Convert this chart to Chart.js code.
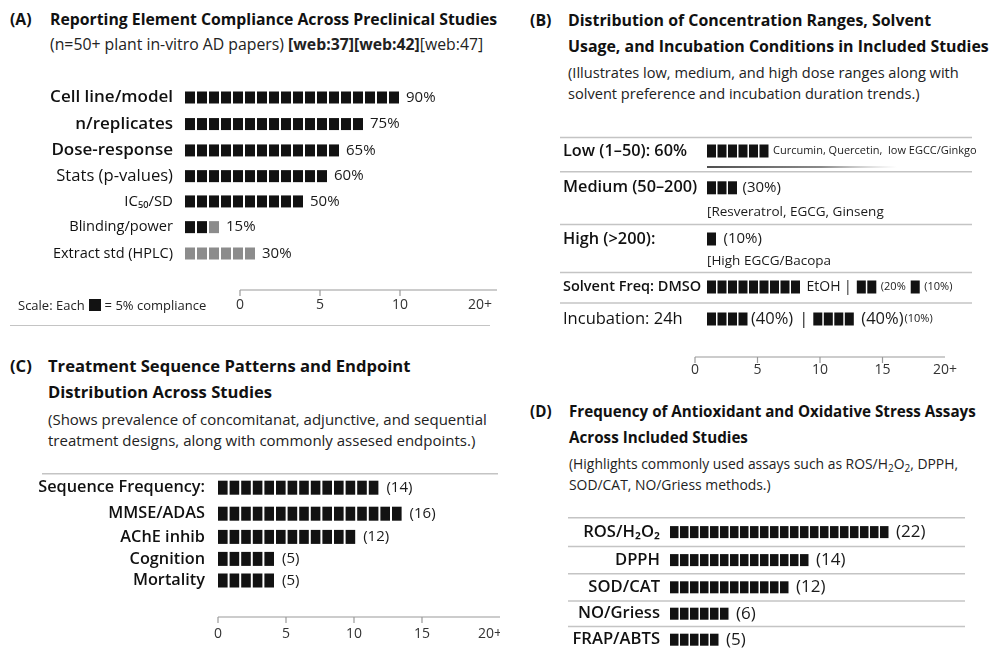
<!DOCTYPE html>
<html>
<head>
<meta charset="utf-8">
<title>Preclinical study design summary</title>
<script src="https://cdn.jsdelivr.net/npm/chart.js@4.4.1/dist/chart.umd.min.js"></script>
<style>
  html, body { margin: 0; padding: 0; background: #fff; }
  body { width: 992px; height: 659px; position: relative; overflow: hidden;
         font-family: "Open Sans", Lato, sans-serif; color: #111; }
  .abs { position: absolute; white-space: nowrap; }
  .title { font-weight: 700; font-size: 16px; line-height: 26px; display: flex; }
  .title .tag { width: 40px; flex: none; }
  .sub { font-size: 14.3px; line-height: 21px; color: #222; }
  .sub sub { font-size: 10px; vertical-align: -3px; line-height: 0; }
  .rule { position: absolute; height: 0; border-top: 1.5px solid #c4c4c4; }
  .key { font-size: 13px; color: #222; }
  .key i { display: inline-block; width: 12px; height: 12px; background: #121212; vertical-align: -1px; margin: 0 4px; }
  canvas { position: absolute; }
</style>
</head>
<body>

<!-- Panel A -->
<div class="abs title" style="left:10px;top:6px;font-size:15.8px"><span class="tag">(A)</span><span>Reporting Element Compliance Across Preclinical Studies</span></div>
<div class="abs sub" style="left:50px;top:34px;font-size:15.8px">(n=50+ plant in-vitro AD papers) <b>[web:37][web:42]</b>[web:47]</div>
<canvas id="chartA" width="500" height="262" style="left:0;top:62px"></canvas>
<div class="abs key" style="left:18px;top:296px">Scale: Each<i></i>= 5% compliance</div>
<div class="rule" style="left:10px;top:325px;width:480px"></div>

<!-- Panel B -->
<div class="abs title" style="left:530px;top:7px;font-size:15.9px"><span class="tag" style="width:38px">(B)</span><span>Distribution of Concentration Ranges, Solvent<br>Usage, and Incubation Conditions in Included Studies</span></div>
<div class="abs sub" style="left:568px;top:62px;font-size:14.6px">(Illustrates low, medium, and high dose ranges along with<br>solvent preference and incubation duration trends.)</div>
<canvas id="chartB" width="437" height="281" style="left:555px;top:108px"></canvas>

<!-- Panel C -->
<div class="abs title" style="left:10px;top:353px;font-size:16.6px"><span class="tag" style="width:38px">(C)</span><span>Treatment Sequence Patterns and Endpoint<br>Distribution Across Studies</span></div>
<div class="abs sub" style="left:48px;top:409px;font-size:15px">(Shows prevalence of concomitanat, adjunctive, and sequential<br>treatment designs, along with commonly assesed endpoints.)</div>
<canvas id="chartC" width="470" height="195" style="left:30px;top:455px"></canvas>

<!-- Panel D -->
<div class="abs title" style="left:530px;top:398px;font-size:15.2px"><span class="tag" style="width:39px">(D)</span><span>Frequency of Antioxidant and Oxidative Stress Assays<br>Across Included Studies</span></div>
<div class="abs sub" style="left:569px;top:453px;font-size:13.9px">(Highlights commonly used assays such as ROS/H<sub>2</sub>O<sub>2</sub>, DPPH,<br>SOD/CAT, NO/Griess methods.)</div>
<canvas id="chartD" width="432" height="164" style="left:560px;top:495px"></canvas>

<script>
// ---------------- data ----------------
// (A) share of papers reporting each element, % (full vs. partial reporting)
const reportItems   = ['Cell line/model', 'n/replicates', 'Dose-response', 'Stats (p-values)', 'IC₅₀/SD', 'Blinding/power', 'Extract std (HPLC)'];
const reportFull    = [90, 75, 65, 60, 50, 10, 0];
const reportPartial = [0, 0, 0, 0, 0, 5, 30];
const reportAxisTicks = ['0', '5', '10', '20+'];

// (B) concentration ranges, solvents and incubation times, % of studies
const doseRanges   = ['Low (1–50)', 'Medium (50–200)', 'High (>200)'];
const doseShare    = [60, 30, 10];
const doseExamples = ['Curcumin, Quercetin,  low EGCC/Ginkgo', '[Resveratrol, EGCG, Ginseng', '[High EGCG/Bacopa'];
const solvents     = ['DMSO', 'EtOH', 'Other'];
const solventShare = [90, 20, 10];
const incubationTimes = ['24h', '48h', '72h'];
const incubationShare = [40, 40, 10];
const conditionAxisTicks = ['0', '5', '10', '15', '20+'];

// (C) treatment sequence and endpoints, number of studies
const sequenceItems  = ['Sequence Frequency:', 'MMSE/ADAS', 'AChE inhib', 'Cognition', 'Mortality'];
const sequenceCounts = [14, 16, 12, 5, 5];
const sequenceAxisTicks = ['0', '5', '10', '15', '20+'];

// (D) antioxidant / oxidative stress assays, number of studies
const assayItems  = ['ROS/H₂O₂', 'DPPH', 'SOD/CAT', 'NO/Griess', 'FRAP/ABTS'];
const assayCounts = [22, 14, 12, 6, 5];

// ---------------- drawing helpers ----------------
const BLACK = '#121212';
const GREY = '#8c8c8c';
const FAMILY = '"Open Sans", Lato, sans-serif';
Chart.defaults.font.family = FAMILY;
Chart.defaults.color = '#111';

const fontStr = f => `${f.weight || 400} ${f.size}px ${FAMILY}`;
const measureCtx = document.createElement('canvas').getContext('2d');
const textW = (t, f) => { measureCtx.font = fontStr(f); return measureCtx.measureText(t).width; };

// A horizontal "block bar" panel: each bar is split into squares of p.unit each.
function blockPanel(id, p) {
  const canvas = document.getElementById(id);
  const W = canvas.width, H = canvas.height;
  const pad = p.pad;
  const axisH = p.axis ? p.axis.height : 0;
  const areaL = pad.l + p.yAxisW;
  const areaW = W - areaL - pad.r;
  const areaH = H - pad.t - pad.b - axisH;

  // vertical scale runs in pixels so that rows can have individual heights
  let acc = 0;
  const bounds = [0];
  const centres = p.rows.map((r, i) => {
    const h = p.rowHeights[i];
    const c = acc + (r.barOffset != null ? r.barOffset : h / 2);
    acc += h; bounds.push(acc);
    return c;
  });

  // segments of a row follow each other, leaving room for the text after each one
  const placed = p.rows.map(r => {
    let cur = 0;
    return r.segs.map(s => {
      const start = cur, end = cur + s.value;
      let tw = 0;
      (s.after || []).forEach(a => { tw += (a.gap != null ? a.gap : 5) + textW(a.text, a.font); });
      cur = end + (tw ? (tw + 5) / p.pxPerUnit : 0);
      return { start, end };
    });
  });

  const nSeg = Math.max(...p.rows.map(r => r.segs.length));
  const datasets = [], segInfo = [];
  for (let k = 0; k < nSeg; k++) {
    const data = [], colors = [], info = [];
    p.rows.forEach((r, i) => {
      const s = r.segs[k];
      if (!s) return;
      data.push({ x: [placed[i][k].start, placed[i][k].end], y: centres[i] });
      colors.push(s.color || BLACK);
      info.push({ row: r, seg: s });
    });
    datasets.push({ data, backgroundColor: colors, grouped: false, barThickness: p.blockH, borderWidth: 0 });
    segInfo.push(info);
  }

  const blocks = {
    id: 'blocks',
    beforeDatasetDraw(chart, args) {
      const ctx = chart.ctx, xs = chart.scales.x;
      const unitPx = Math.abs(xs.getPixelForValue(p.unit) - xs.getPixelForValue(0));
      ctx.save();
      args.meta.data.forEach(el => {
        const left = Math.min(el.x, el.base), len = Math.abs(el.x - el.base);
        const h = el.height, top = el.y - h / 2;
        ctx.fillStyle = el.options.backgroundColor;
        const n = Math.floor(len / unitPx + 1e-6);
        for (let i = 0; i < n; i++) ctx.fillRect(left + i * unitPx, top, unitPx - p.gap, h);
        const rem = len - n * unitPx;
        if (rem > 0.5) ctx.fillRect(left + n * unitPx, top, Math.max(1.5, rem - p.gap), h);
      });
      ctx.restore();
      return false;
    },
    afterDatasetsDraw(chart) {
      const ctx = chart.ctx;
      ctx.save();
      ctx.textAlign = 'left';
      ctx.textBaseline = 'middle';
      chart.data.datasets.forEach((ds, k) => {
        chart.getDatasetMeta(k).data.forEach((el, j) => {
          const { row, seg } = segInfo[k][j];
          let tx = Math.max(el.x, el.base);
          (seg.after || []).forEach(a => {
            tx += (a.gap != null ? a.gap : 5);
            ctx.font = fontStr(a.font);
            ctx.fillStyle = a.color || '#1a1a1a';
            ctx.fillText(a.text, tx, el.y + (a.dy || 0));
            tx += ctx.measureText(a.text).width;
          });
          if (k === 0 && row.note) {
            ctx.font = fontStr(row.note.font);
            ctx.fillStyle = '#1a1a1a';
            ctx.fillText(row.note.text, el.base, el.y + row.note.dy);
          }
          if (k === 0 && row.underline) {
            const y = el.y + row.underline.dy;
            const g = ctx.createLinearGradient(el.base, 0, el.base + row.underline.len, 0);
            g.addColorStop(0, 'rgba(20,20,20,1)');
            g.addColorStop(0.6, 'rgba(60,60,60,0.8)');
            g.addColorStop(1, 'rgba(120,120,120,0)');
            ctx.strokeStyle = g; ctx.lineWidth = 1.5;
            ctx.beginPath(); ctx.moveTo(el.base, y); ctx.lineTo(el.base + row.underline.len, y); ctx.stroke();
          }
        });
      });
      ctx.restore();
    },
    afterDraw(chart) {
      const ctx = chart.ctx, ys = chart.scales.y;
      ctx.save();
      ctx.strokeStyle = '#c4c4c4';
      ctx.lineWidth = 1.5;
      (p.rules || []).forEach(bi => {
        const yy = ys.getPixelForValue(bounds[bi]);
        ctx.beginPath(); ctx.moveTo(p.ruleX[0], yy); ctx.lineTo(p.ruleX[1], yy); ctx.stroke();
      });
      if (p.axis) {
        const s = chart.scales.x2;
        const ly = chart.chartArea.bottom + p.axis.lineOffset;
        ctx.strokeStyle = '#9a9a9a';
        ctx.lineWidth = 1.2;
        ctx.beginPath();
        ctx.moveTo(s.getPixelForValue(0), ly);
        ctx.lineTo(p.axis.lineEnd, ly);
        ctx.stroke();
        s.ticks.forEach((t, i) => {
          if (i >= p.axis.labels.length - 1) return;
          const tx = s.getPixelForValue(t.value);
          ctx.beginPath(); ctx.moveTo(tx, ly); ctx.lineTo(tx, ly + 6); ctx.stroke();
        });
      }
      ctx.restore();
    }
  };

  const scales = {
    x: { type: 'linear', min: 0, max: areaW / p.pxPerUnit, display: false },
    y: {
      type: 'linear', reverse: true, min: 0, max: areaH,
      afterFit: s => { s.width = p.yAxisW; s.paddingTop = 0; s.paddingBottom = 0; },
      afterBuildTicks: s => { s.ticks = centres.map(v => ({ value: v })); },
      grid: { display: false, drawTicks: false }, border: { display: false },
      ticks: {
        autoSkip: false, padding: p.labelPad, crossAlign: p.labelAlign, color: '#111',
        font: ctx => (p.rows[ctx.index] ? p.rows[ctx.index].font : { size: 12 }),
        callback: (v, i) => p.rows[i] ? p.rows[i].label : ''
      }
    }
  };
  if (p.axis) {
    const min = (areaL - p.axis.zeroX) / p.axis.step;
    scales.x2 = {
      type: 'linear', axis: 'x', position: 'bottom', min, max: min + areaW / p.axis.step,
      afterFit: s => { s.height = axisH; s.paddingLeft = 0; s.paddingRight = 0; },
      afterBuildTicks: s => { s.ticks = p.axis.labels.map((_, i) => ({ value: i })); },
      grid: { display: false }, border: { display: false },
      ticks: { autoSkip: false, maxRotation: 0, padding: p.axis.labelPad, color: '#333',
               font: p.axis.font, callback: (v, i) => p.axis.labels[i] }
    };
  }

  return new Chart(canvas, {
    type: 'bar',
    data: { datasets },
    options: {
      indexAxis: 'y',
      responsive: false,
      animation: false,
      devicePixelRatio: 1,
      layout: { padding: { left: pad.l, right: pad.r, top: pad.t, bottom: pad.b } },
      plugins: { legend: { display: false }, tooltip: { enabled: false } },
      scales
    },
    plugins: [blocks]
  });
}

// ---------------- panel A ----------------
const fontsA = [
  { size: 17, weight: 600 }, { size: 17, weight: 600 }, { size: 17, weight: 600 },
  { size: 16.6, weight: 500 }, { size: 15, weight: 500 }, { size: 14.6, weight: 500 }, { size: 14.5, weight: 400 }
];
blockPanel('chartA', {
  rows: reportItems.map((label, i) => {
    const segs = [{ value: reportFull[i], color: BLACK }, { value: reportPartial[i], color: GREY }].filter(s => s.value > 0);
    segs[segs.length - 1].after = [{ text: `${reportFull[i] + reportPartial[i]}%`, font: { size: 15 }, gap: 5 }];
    return { label, font: fontsA[i], segs };
  }),
  rowHeights: [31, 31, 30.5, 29.5, 29.5, 30.5, 31],
  pad: { l: 0, r: 5, t: 7, b: 0 },
  yAxisW: 185, labelPad: 12, labelAlign: 'near',
  unit: 5, pxPerUnit: 2.4, blockH: 12, gap: 2,
  axis: { labels: reportAxisTicks, zeroX: 240, step: 80, height: 42, lineOffset: 8, labelPad: 7,
          lineEnd: 497, font: { size: 14 } }
});

// ---------------- panel B ----------------
const fB = { size: 16.3, weight: 600 };
const small = { size: 11 };
blockPanel('chartB', {
  rows: [
    { label: `${doseRanges[0]}: ${doseShare[0]}%`, font: fB, barOffset: 17,
      segs: [{ value: doseShare[0], after: [{ text: doseExamples[0], font: small, gap: 3 }] }],
      underline: { dy: 16, len: 190 } },
    { label: doseRanges[1], font: fB, barOffset: 20,
      segs: [{ value: doseShare[1], after: [{ text: `(${doseShare[1]}%)`, font: { size: 15 }, gap: 4 }] }],
      note: { text: doseExamples[1], font: { size: 13.5 }, dy: 24 } },
    { label: `${doseRanges[2]}:`, font: fB, barOffset: 18,
      segs: [{ value: doseShare[2], after: [{ text: `(${doseShare[2]}%)`, font: { size: 15 }, gap: 6 }] }],
      note: { text: doseExamples[2], font: { size: 13.5 }, dy: 22 } },
    { label: `Solvent Freq: ${solvents[0]}`, font: { size: 14.5, weight: 600 }, barOffset: 18,
      segs: [
        { value: solventShare[0], after: [{ text: `${solvents[1]} |`, font: { size: 14 }, gap: 5 }] },
        { value: solventShare[1], after: [{ text: `(${solventShare[1]}%`, font: small, gap: 3 }] },
        { value: solventShare[2], after: [{ text: `(${solventShare[2]}%)`, font: small, gap: 3 }] }
      ] },
    { label: `Incubation: ${incubationTimes[0]}`, font: { size: 16.5, weight: 500 }, barOffset: 20,
      segs: [
        { value: incubationShare[0], after: [{ text: `(${incubationShare[0]}%)`, font: { size: 16.5 }, gap: 2 },
                                             { text: '|', font: { size: 16.5 }, gap: 6 }] },
        { value: incubationShare[1], after: [{ text: `(${incubationShare[1]}%)`, font: { size: 16.5 }, gap: 6 },
                                             { text: `(${incubationShare[2]}%)`, font: small, gap: 1 }] }
      ] }
  ],
  rowHeights: [43, 66, 60, 38, 37],
  pad: { l: 8, r: 0, t: 5, b: 0 },
  yAxisW: 144, labelPad: 0, labelAlign: 'far',
  unit: 10, pxPerUnit: 1.05, blockH: 13, gap: 1.5,
  rules: [0, 1, 2, 3, 4], ruleX: [5, 417],
  axis: { labels: conditionAxisTicks, zeroX: 140, step: 62.5, height: 32, lineOffset: 0, labelPad: -3,
          lineEnd: 390, font: { size: 14 } }
});

// ---------------- panel C ----------------
const fC = { size: 16.3, weight: 600 };
blockPanel('chartC', {
  rows: sequenceItems.map((label, i) => ({
    label, font: fC,
    segs: [{ value: sequenceCounts[i], after: [{ text: `(${sequenceCounts[i]})`, font: { size: 15 }, gap: 6 }] }]
  })),
  rowHeights: [35, 30, 28, 27, 27],
  pad: { l: 0, r: 5, t: 4, b: 0 },
  yAxisW: 188, labelPad: 13, labelAlign: 'near',
  unit: 1, pxPerUnit: 11.6, blockH: 14, gap: 2,
  rules: [0], ruleX: [12, 468],
  axis: { labels: sequenceAxisTicks, zeroX: 188, step: 68, height: 44, lineOffset: 11, labelPad: 12,
          lineEnd: 470, font: { size: 14 } }
});

// ---------------- panel D ----------------
const fD = { size: 16.6, weight: 600 };
blockPanel('chartD', {
  rows: assayItems.map((label, i) => ({
    label, font: fD,
    segs: [{ value: assayCounts[i], after: [{ text: `(${assayCounts[i]})`, font: { size: 17 }, gap: 6 }] }]
  })),
  rowHeights: [36, 34, 34, 32, 33],
  pad: { l: 0, r: 5, t: 7, b: 0 },
  yAxisW: 110, labelPad: 10, labelAlign: 'near',
  unit: 1, pxPerUnit: 10, blockH: 12, gap: 1.5,
  rules: [0, 1, 2, 3, 4], ruleX: [8, 405]
});
</script>
</body>
</html>
